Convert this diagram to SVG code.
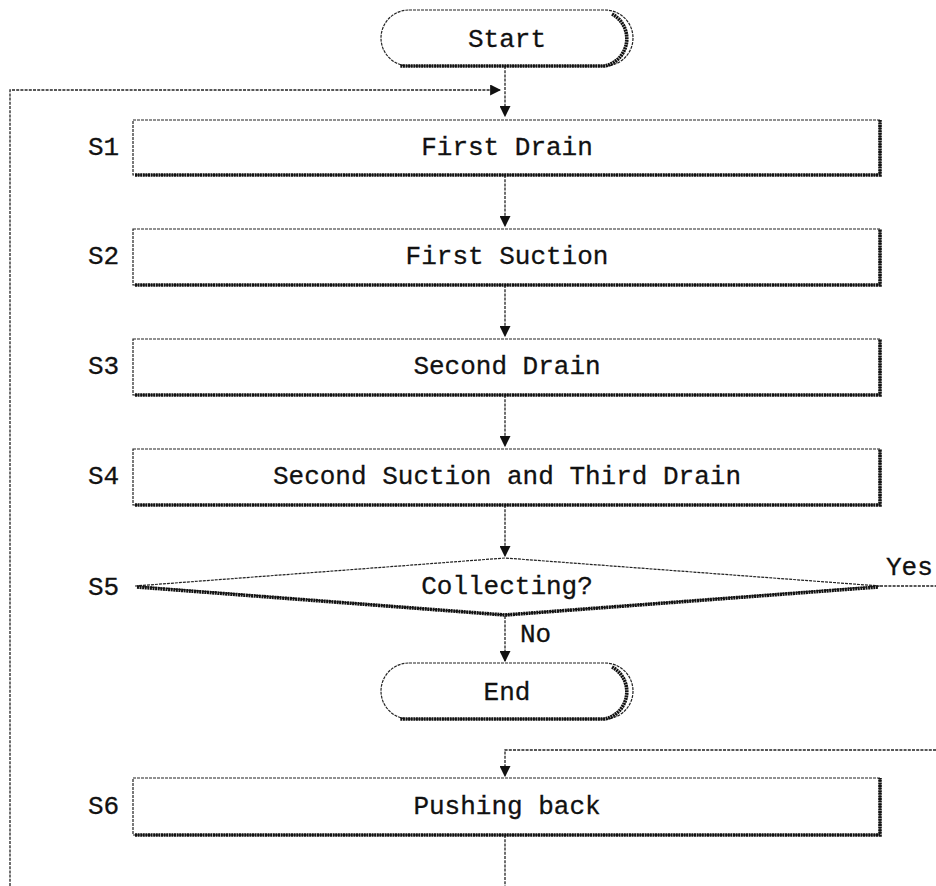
<svg xmlns="http://www.w3.org/2000/svg" width="936" height="886" viewBox="0 0 936 886">
<style>
.box{fill:#fff;stroke:#222;stroke-width:1.2;stroke-dasharray:3 1}
.sh{fill:none;stroke:#111;stroke-width:3.6;stroke-dasharray:2 0.6}
.t{font-family:"Liberation Mono","Courier New",monospace;font-size:26px;fill:#111;text-anchor:middle;stroke:#111;stroke-width:0.3}
.lbl{font-family:"Liberation Mono","Courier New",monospace;font-size:26px;fill:#111;stroke:#111;stroke-width:0.3}
.c{fill:none;stroke:#222;stroke-width:1.3;stroke-dasharray:3 1.2}
</style>
<defs>
<marker id="ah" viewBox="0 0 10 10" refX="9" refY="5" markerWidth="11" markerHeight="11" markerUnits="userSpaceOnUse" orient="auto">
<path d="M0,0 L10,5 L0,10 z" fill="#111"/>
</marker>
</defs>
<g id="connectors">
<path class="c" d="M505,66 V116" marker-end="url(#ah)"/>
<path class="c" d="M505,835 V886 M10,886 V90 H500" marker-end="url(#ah)"/>
<path class="c" d="M505,175 V226" marker-end="url(#ah)"/>
<path class="c" d="M505,285 V336" marker-end="url(#ah)"/>
<path class="c" d="M505,395 V446" marker-end="url(#ah)"/>
<path class="c" d="M505,505 V556" marker-end="url(#ah)"/>
<path class="c" d="M505,616 V661" marker-end="url(#ah)"/>
<path class="c" d="M880,586 H936"/>
<path class="c" d="M936,750 H505 V776" marker-end="url(#ah)"/>
<text class="lbl" x="520" y="642">No</text>
<text class="lbl" x="886" y="575">Yes</text>
</g>
<g id="start">
<rect class="box" x="381" y="10" width="252" height="56" rx="28"/>
<path class="sh" d="M612,14 A28,28 0 0 1 605,66 H400"/>
<text class="t" x="507" y="47">Start</text>
</g>
<g id="s1">
<rect class="box" x="133" y="120" width="747" height="55"/>
<path class="sh" d="M135,175 H880 V120"/>
<text class="t" x="507" y="155">First Drain</text>
<text class="lbl" x="88" y="155">S1</text>
</g>
<g id="s2">
<rect class="box" x="133" y="229" width="747" height="56"/>
<path class="sh" d="M135,285 H880 V229"/>
<text class="t" x="507" y="264">First Suction</text>
<text class="lbl" x="88" y="264">S2</text>
</g>
<g id="s3">
<rect class="box" x="133" y="339" width="747" height="56"/>
<path class="sh" d="M135,395 H880 V339"/>
<text class="t" x="507" y="374">Second Drain</text>
<text class="lbl" x="88" y="374">S3</text>
</g>
<g id="s4">
<rect class="box" x="133" y="449" width="747" height="56"/>
<path class="sh" d="M135,505 H880 V449"/>
<text class="t" x="507" y="484">Second Suction and Third Drain</text>
<text class="lbl" x="88" y="484">S4</text>
</g>
<g id="s5">
<polygon class="box" points="135,586 505,558 880,586 505,615"/>
<path class="sh" d="M137,587 L505,615 L878,587"/>
<text class="t" x="507" y="594">Collecting?</text>
<text class="lbl" x="88" y="595">S5</text>
</g>
<g id="end">
<rect class="box" x="381" y="663" width="252" height="56" rx="28"/>
<path class="sh" d="M612,667 A28,28 0 0 1 605,719 H400"/>
<text class="t" x="507" y="700">End</text>
</g>
<g id="s6">
<rect class="box" x="133" y="778" width="747" height="57"/>
<path class="sh" d="M135,835 H880 V778"/>
<text class="t" x="507" y="814">Pushing back</text>
<text class="lbl" x="88" y="814">S6</text>
</g>
</svg>
